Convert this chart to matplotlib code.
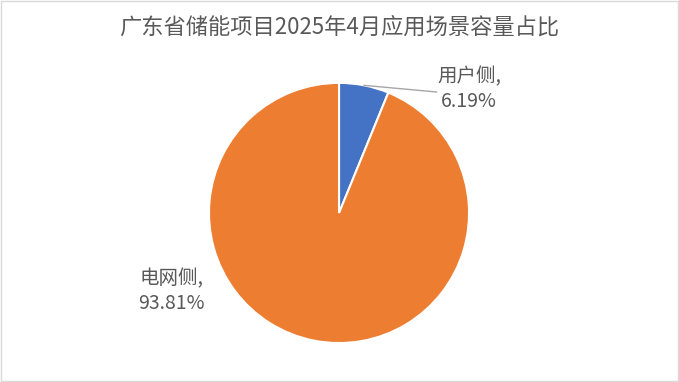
import numpy as np
import matplotlib.pyplot as plt
from matplotlib.patches import Rectangle

plt.rcParams['font.family'] = ['Noto Sans CJK SC', 'DejaVu Sans']

title = '广东省储能项目2025年4月应用场景容量占比'
labels = ['用户侧', '电网侧']
values = [6.19, 93.81]
colors = ['#4472C4', '#ED7D31']
text_color = '#595959'

fig = plt.figure(figsize=(6.79, 3.82), dpi=100)
fig.patches.append(Rectangle((0.001, 0.002), 0.997, 0.995, transform=fig.transFigure,
                             fill=False, edgecolor='#D9D9D9', linewidth=1))

ax = fig.add_axes([0.3078, 0.102, 0.383, 0.681])
ax.pie(values, colors=colors, startangle=90, counterclock=False,
       wedgeprops=dict(edgecolor='white', linewidth=1.5))
ax.set_xlim(-1, 1)
ax.set_ylim(-1, 1)
ax.set_aspect('auto')

# leader line for the small slice
mid = np.deg2rad(90 - values[0] / sum(values) * 360 / 2)
ax.plot([np.cos(mid), 0.75], [np.sin(mid), 0.93], color='#A6A6A6', lw=1, clip_on=False)

ax.text(1.0, 0.95, f'{labels[0]},\n{values[0]:.2f}%', ha='center', va='center',
        fontsize=14, color=text_color, linespacing=1.25)
ax.text(-1.29, -0.6, f'{labels[1]},\n{values[1]:.2f}%', ha='center', va='center',
        fontsize=14, color=text_color, linespacing=1.25)

fig.text(0.5, 0.928, title, ha='center', va='center', fontsize=16, color=text_color)

fig.savefig('out.png', dpi=100)
